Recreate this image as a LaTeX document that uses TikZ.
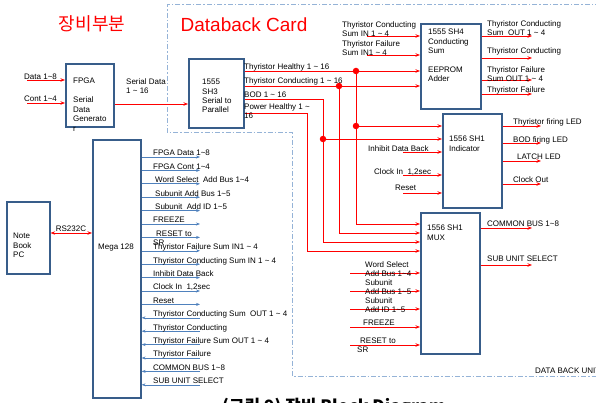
\documentclass[tikz,border=0pt]{standalone}
\usepackage{fontspec}
\setmainfont{Liberation Sans}
\newfontfamily\krfont{Noto Sans CJK KR}
\usetikzlibrary{arrows.meta, calc}
\definecolor{boxblue}{RGB}{56,93,138}
\definecolor{busblue}{RGB}{79,129,189}
\definecolor{edgeblue}{RGB}{149,179,215}
\newcommand{\tild}{\textasciitilde}

\begin{document}
\begin{tikzpicture}[
    x=1pt, y=-1pt,
    font=\fontsize{8}{9.3}\selectfont,
    block/.style={
        draw=boxblue, line width=1.6pt, fill=white,
        anchor=north west, inner sep=0pt
    },
    lbl/.style={
        inner sep=0pt, align=left, anchor=north west
    },
    headline/.style={
        text=red, inner sep=0pt
    },
    sig/.style={
        draw=red, line width=0.7pt, -{Stealth[length=4.5pt, width=3.5pt]}
    },
    bus/.style={
        draw=busblue, line width=0.6pt, -{Stealth[length=4pt, width=3pt]}
    },
    junction/.style={
        circle, fill=red, inner sep=0pt, minimum size=6.5pt
    },
    boundary/.style={
        draw=edgeblue, line width=1pt, dash pattern=on 5pt off 2pt on 1.5pt off 2pt
    }
]
\useasboundingbox (0,0) rectangle (596,403);
\fill[white] (0,0) rectangle (596,403);
\clip (0,0) rectangle (596,403);

% --- titles ---
\node[headline, font=\krfont\fontsize{18}{18}\selectfont] (kortitle) at (92,24) {장비부분};
\node[headline, font=\fontsize{19}{19}\selectfont] (cardtitle) at (244,25) {Databack Card};

% --- databack card outline ---
\draw[boundary] (600,5) -- (167,5) -- (167,133) -- (292,133) -- (292,376) -- (600,376);
\node[lbl] (unitname) at (535,368) {DATA BACK UNIT};

% --- blocks ---
\node[block, minimum width=48, minimum height=63]  (fpga) at (65,63) {};
\node[block, minimum width=55, minimum height=69]  (sh3)  at (188,58) {};
\node[block, minimum width=60, minimum height=85]  (sh4)  at (420,23) {};
\node[block, minimum width=59, minimum height=94]  (ind)  at (442,113) {};
\node[block, minimum width=59, minimum height=141] (mux)  at (420,212) {};
\node[block, minimum width=48, minimum height=258] (mega) at (92,139) {};
\node[block, minimum width=43, minimum height=72]  (pc)   at (6,201) {};

\node[lbl, font=\fontsize{8}{9.5}\selectfont] (fpgatext) at (73,78.2) {FPGA\\[9.5pt]Serial\\Data\\Generato\\r};
\node[lbl, font=\fontsize{8}{9.1}\selectfont] (sh3text) at (202,79.2) {1555\\SH3\\Serial to\\Parallel};
\node[lbl] (sh4text) at (428,29.2) {1555 SH4\\Conducting\\Sum\\[9.3pt]EEPROM\\Adder};
\node[lbl] (indtext) at (449,136.2) {1556 SH1\\Indicator};
\node[lbl] (muxtext) at (427,225.2) {1556 SH1\\MUX};
\node[inner sep=0pt] (megatext) at (116,248) {Mega 128};
\node[lbl, font=\fontsize{8}{9.5}\selectfont] (pctext) at (13,233.2) {Note\\Book\\PC};

% --- FPGA inputs and serial link ---
\coordinate (datain) at (27,80);
\coordinate (contin) at (27,103);
\coordinate (serial) at (150,104);
\draw[sig] (datain) -- (datain -| fpga.west);
\draw[sig] (contin) -- (contin -| fpga.west);
\draw[sig] (fpga.east |- serial) -- (serial -| sh3.west);
\node[lbl] (datalbl) at (24,74.2) {Data 1\tild8};
\node[lbl] (contlbl) at (24,95.7) {Cont 1\tild4};
\node[lbl, font=\fontsize{8}{9}\selectfont] (seriallbl) at (126,78.2) {Serial Data\\1 \tild{} 16};

% --- SH3 outputs, branched to SH4, indicator and MUX ---
\coordinate (hjA) at (356,71);
\coordinate (cjA) at (339,86);
\coordinate (bcorner) at (323,99);
\coordinate (pcorner) at (307,113);
\coordinate (hjB) at (356,126);
\coordinate (bjB) at (323,139);
\coordinate (muxh) at (356,224);
\coordinate (muxc) at (339,233);
\coordinate (muxb) at (323,242);
\coordinate (muxp) at (307,251);
\draw[sig] (sh3.east |- hjA) -- (hjA -| sh4.west);
\draw[sig] (sh3.east |- cjA) -- (cjA -| sh4.west);
\draw[sig] (sh3.east |- bcorner) -- (bcorner) -- (muxb) -- (muxb -| mux.west);
\draw[sig] (sh3.east |- pcorner) -- (pcorner) -- (muxp) -- (muxp -| mux.west);
\draw[sig] (hjA) -- (muxh) -- (muxh -| mux.west);
\draw[sig] (cjA) -- (muxc) -- (muxc -| mux.west);
\draw[sig] (hjB) -- (hjB -| ind.west);
\draw[sig] (bjB) -- (bjB -| ind.west);
\node[junction] (dotha) at (hjA) {};
\node[junction] (dotca) at (cjA) {};
\node[junction] (dothb) at (hjB) {};
\node[junction] (dotbb) at (bjB) {};
\node[lbl] (healthylbl) at (244,63.9) {Thyristor Healthy 1 \tild{} 16};
\node[lbl] (condlbl) at (244,77.9) {Thyristor Conducting 1 \tild{} 16};
\node[lbl] (bodlbl) at (244,91.9) {BOD 1 \tild{} 16};
\node[lbl, font=\fontsize{8}{9}\selectfont] (powerlbl) at (244,103.9) {Power Healthy 1 \tild\\16};

% --- SH4 inputs and outputs ---
\coordinate (csumin) at (367,36);
\coordinate (fsumin) at (367,55);
\draw[sig] (csumin) -- (csumin -| sh4.west);
\draw[sig] (fsumin) -- (fsumin -| sh4.west);
\node[lbl] (csuminlbl) at (342,21.2) {Thyristor Conducting\\Sum IN 1 \tild{} 4};
\node[lbl] (fsuminlbl) at (342,40.2) {Thyristor Failure\\Sum IN1 \tild{} 4};

\coordinate (csumout) at (532,36);
\coordinate (condout) at (532,58);
\coordinate (fsumout) at (532,80);
\coordinate (failout) at (532,94);
\draw[sig] (sh4.east |- csumout) -- (csumout);
\draw[sig] (sh4.east |- condout) -- (condout);
\draw[sig] (sh4.east |- fsumout) -- (fsumout);
\draw[sig] (sh4.east |- failout) -- (failout);
\node[lbl] (csumoutlbl) at (487,20.2) {Thyristor Conducting\\Sum\ \ OUT 1 \tild{} 4};
\node[lbl] (condoutlbl) at (487,47.2) {Thyristor Conducting};
\node[lbl] (fsumoutlbl) at (487,66.2) {Thyristor Failure\\Sum OUT 1 \tild{} 4};
\node[lbl] (failoutlbl) at (487,86.2) {Thyristor Failure};

% --- indicator inputs and outputs ---
\coordinate (inhin) at (403,152);
\coordinate (clkin) at (403,175);
\coordinate (rstin) at (403,193);
\draw[sig] (inhin) -- (inhin -| ind.west);
\draw[sig] (clkin) -- (clkin -| ind.west);
\draw[sig] (rstin) -- (rstin -| ind.west);
\node[lbl] (inhlbl) at (368,145.2) {Inhibit Data Back};
\node[lbl] (clklbl) at (374,168.2) {Clock In\ \ 1,2sec};
\node[lbl] (rstlbl) at (395,185.2) {Reset};

\coordinate (firingout) at (541,126);
\coordinate (bodout) at (541,143);
\coordinate (latchout) at (541,161);
\coordinate (clkout) at (541,184);
\draw[sig] (ind.east |- firingout) -- (firingout);
\draw[sig] (ind.east |- bodout) -- (bodout);
\draw[sig] (ind.east |- latchout) -- (latchout);
\draw[sig] (ind.east |- clkout) -- (clkout);
\node[lbl] (firinglbl) at (513,118.2) {Thyristor firing LED};
\node[lbl] (bodoutlbl) at (513,136.2) {BOD firing LED};
\node[lbl] (latchlbl) at (517,154.2) {LATCH LED};
\node[lbl] (clkoutlbl) at (513,176.2) {Clock Out};

% --- MUX inputs and outputs ---
\coordinate (wsin) at (350,273);
\coordinate (sabin) at (350,291);
\coordinate (saidin) at (350,309);
\coordinate (frzin) at (350,327);
\coordinate (rstsrin) at (350,345);
\draw[sig] (wsin) -- (wsin -| mux.west);
\draw[sig] (sabin) -- (sabin -| mux.west);
\draw[sig] (saidin) -- (saidin -| mux.west);
\draw[sig] (frzin) -- (frzin -| mux.west);
\draw[sig] (rstsrin) -- (rstsrin -| mux.west);
\node[lbl, font=\fontsize{8}{9}\selectfont] (wslbl) at (365,261.2) {Word Select\\Add Bus 1\tild4};
\node[lbl, font=\fontsize{8}{9}\selectfont] (sablbl) at (365,279.2) {Subunit\\Add Bus 1\tild5};
\node[lbl, font=\fontsize{8}{9}\selectfont] (saidlbl) at (365,297.2) {Subunit\\Add ID 1\tild5};
\node[lbl] (frzlbl) at (363,320.2) {FREEZE};
\node[lbl, font=\fontsize{8}{9}\selectfont] (rstsrlbl) at (357,338.2) {\hspace*{3pt}RESET to\\SR};

\coordinate (cbusout) at (532,228);
\coordinate (subout) at (532,265);
\draw[sig] (mux.east |- cbusout) -- (cbusout);
\draw[sig] (mux.east |- subout) -- (subout);
\node[lbl] (cbuslbl) at (487,221.2) {COMMON BUS 1\tild8};
\node[lbl] (sublbl) at (487,256.2) {SUB UNIT SELECT};

% --- notebook link ---
\coordinate (rs) at (70,233);
\draw[sig, {Stealth[length=4.5pt, width=3.5pt]}-{Stealth[length=4.5pt, width=3.5pt]}] (pc.east |- rs) -- (rs -| mega.west);
\node[inner sep=0pt] (rslbl) at (71,228.5) {RS232C};

% --- Mega 128 signal list: outgoing ---
\foreach \idx/\dx/\txt in {
    1/0/{FPGA Data 1\tild8},
    2/0/{FPGA Cont 1\tild4},
    3/2/{Word Select\ \ Add Bus 1\tild4},
    4/2/{Subunit Add Bus 1\tild5},
    5/2/{Subunit\ \ Add ID 1\tild5},
    6/0/{FREEZE},
    7/0/{\hspace*{3pt}RESET to\\SR},
    8/0/{Thyristor Failure Sum IN1 \tild{} 4},
    9/0/{Thyristor Conducting Sum IN 1 \tild{} 4},
    10/0/{Inhibit Data Back},
    11/0/{Clock In\ \ 1,2sec},
    12/0/{Reset}}
{
    \coordinate (mout\idx) at (200,{157+13.4*(\idx-1)});
    \draw[bus] (mega.east |- mout\idx) -- (mout\idx);
    \node[lbl, font=\fontsize{8}{9}\selectfont] (mlbl\idx) at ($(mout\idx)+({-47+\dx},-7.1)$) {\txt};
}

% --- Mega 128 signal list: incoming ---
\foreach \idx/\txt in {
    13/{Thyristor Conducting Sum\ \ OUT 1 \tild{} 4},
    14/{Thyristor Conducting},
    15/{Thyristor Failure Sum OUT 1 \tild{} 4},
    16/{Thyristor Failure},
    17/{COMMON BUS 1\tild8},
    18/{SUB UNIT SELECT}}
{
    \coordinate (min\idx) at (200,{157+13.4*(\idx-1)});
    \draw[bus] (min\idx) -- (min\idx -| mega.east);
    \node[lbl] (mlbl\idx) at ($(min\idx)+(-47,-7.1)$) {\txt};
}

% --- caption, cut by the page edge ---
\node[font=\krfont\bfseries\fontsize{17}{17}\selectfont, anchor=base west, inner sep=0pt] (caption) at (222,412) {(그림 9) 장비 Block Diagram};

\end{tikzpicture}
\end{document}
